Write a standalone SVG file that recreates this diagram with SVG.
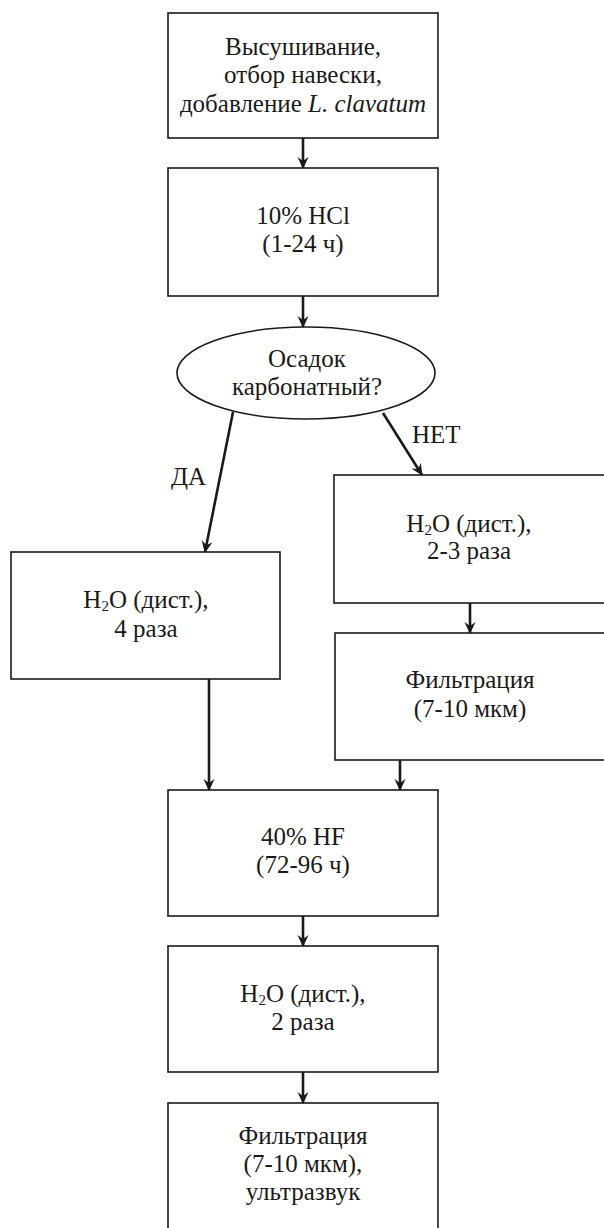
<svg xmlns="http://www.w3.org/2000/svg" width="604" height="1228" viewBox="0 0 604 1228">
<style>
.box{fill:#fff;stroke:#1a1a1a;stroke-width:1.6}
.c{stroke:#1a1a1a;stroke-width:2.6;fill:none;marker-end:url(#ah)}
</style>
<defs>
<marker id="ah" viewBox="0 0 12 12" refX="11" refY="6" markerUnits="userSpaceOnUse" markerWidth="12" markerHeight="12" orient="auto">
<path d="M0,0.5 L12,6 L0,11.5 L4,6 z" fill="#1a1a1a"/>
</marker>
</defs>
<rect width="604" height="1228" fill="#fff"/>
<g id="connectors">
<line class="c" x1="303" y1="138" x2="303" y2="168"/>
<line class="c" x1="303" y1="296" x2="303" y2="327"/>
<line class="c" x1="233" y1="412" x2="205" y2="552"/>
<line class="c" x1="383" y1="413" x2="422" y2="475"/>
<line class="c" x1="470" y1="603" x2="470" y2="633"/>
<line class="c" x1="209" y1="679" x2="209" y2="790"/>
<line class="c" x1="400" y1="760" x2="400" y2="790"/>
<line class="c" x1="303" y1="916" x2="303" y2="946"/>
<line class="c" x1="303" y1="1072" x2="303" y2="1103"/>
<text x="171" y="485" font-family="Liberation Serif" font-size="25" fill="#1a1a1a">ДА</text>
<text x="412" y="443" font-family="Liberation Serif" font-size="25" fill="#1a1a1a">НЕТ</text>
</g>
<g id="n1">
<rect class="box" x="168" y="13" width="270" height="125"/>
<text x="303" y="55" font-family="Liberation Serif" font-size="25" fill="#1a1a1a" text-anchor="middle">Высушивание,</text>
<text x="303" y="83" font-family="Liberation Serif" font-size="25" fill="#1a1a1a" text-anchor="middle">отбор навески,</text>
<text x="303" y="112" font-family="Liberation Serif" font-size="25" fill="#1a1a1a" text-anchor="middle">добавление <tspan font-style="italic">L. clavatum</tspan></text>
</g>
<g id="n2">
<rect class="box" x="168" y="168" width="270" height="128"/>
<text x="303" y="224" font-family="Liberation Serif" font-size="25" fill="#1a1a1a" text-anchor="middle">10% HCl</text>
<text x="303" y="252" font-family="Liberation Serif" font-size="25" fill="#1a1a1a" text-anchor="middle">(1-24 ч)</text>
</g>
<g id="n3">
<ellipse class="box" cx="306" cy="373" rx="129" ry="46"/>
<text x="307" y="367" font-family="Liberation Serif" font-size="25" fill="#1a1a1a" text-anchor="middle">Осадок</text>
<text x="307" y="395" font-family="Liberation Serif" font-size="25" fill="#1a1a1a" text-anchor="middle">карбонатный?</text>
</g>
<g id="n4">
<rect class="box" x="11" y="552" width="269" height="127"/>
<text x="146" y="608" font-family="Liberation Serif" font-size="25" fill="#1a1a1a" text-anchor="middle">H<tspan font-size="15" baseline-shift="-20%">2</tspan>O (дист.),</text>
<text x="146" y="637" font-family="Liberation Serif" font-size="25" fill="#1a1a1a" text-anchor="middle">4 раза</text>
</g>
<g id="n5">
<rect class="box" x="334" y="475" width="272" height="128"/>
<text x="469" y="532" font-family="Liberation Serif" font-size="25" fill="#1a1a1a" text-anchor="middle">H<tspan font-size="15" baseline-shift="-20%">2</tspan>O (дист.),</text>
<text x="469" y="559" font-family="Liberation Serif" font-size="25" fill="#1a1a1a" text-anchor="middle">2-3 раза</text>
</g>
<g id="n6">
<rect class="box" x="335" y="633" width="271" height="127"/>
<text x="470" y="688" font-family="Liberation Serif" font-size="25" fill="#1a1a1a" text-anchor="middle">Фильтрация</text>
<text x="470" y="717" font-family="Liberation Serif" font-size="25" fill="#1a1a1a" text-anchor="middle">(7-10 мкм)</text>
</g>
<g id="n7">
<rect class="box" x="168" y="790" width="270" height="126"/>
<text x="303" y="845" font-family="Liberation Serif" font-size="25" fill="#1a1a1a" text-anchor="middle">40% HF</text>
<text x="303" y="873" font-family="Liberation Serif" font-size="25" fill="#1a1a1a" text-anchor="middle">(72-96 ч)</text>
</g>
<g id="n8">
<rect class="box" x="168" y="946" width="270" height="126"/>
<text x="303" y="1002" font-family="Liberation Serif" font-size="25" fill="#1a1a1a" text-anchor="middle">H<tspan font-size="15" baseline-shift="-20%">2</tspan>O (дист.),</text>
<text x="303" y="1030" font-family="Liberation Serif" font-size="25" fill="#1a1a1a" text-anchor="middle">2 раза</text>
</g>
<g id="n9">
<rect class="box" x="168" y="1103" width="270" height="130"/>
<text x="303" y="1144" font-family="Liberation Serif" font-size="25" fill="#1a1a1a" text-anchor="middle">Фильтрация</text>
<text x="303" y="1172" font-family="Liberation Serif" font-size="25" fill="#1a1a1a" text-anchor="middle">(7-10 мкм),</text>
<text x="303" y="1200" font-family="Liberation Serif" font-size="25" fill="#1a1a1a" text-anchor="middle">ультразвук</text>
</g>
</svg>
